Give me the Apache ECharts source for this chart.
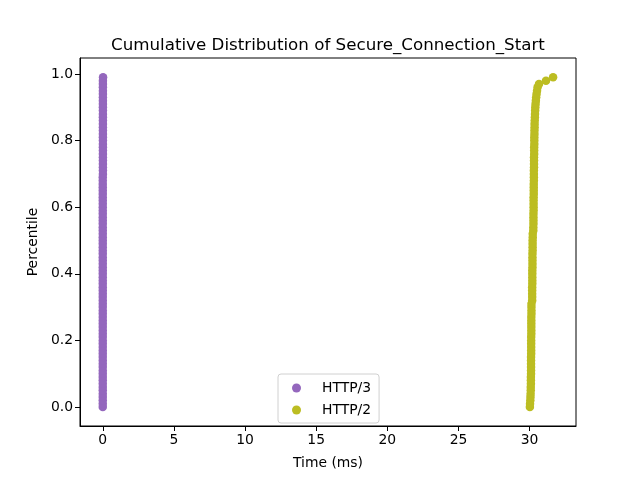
<!DOCTYPE html>
<html><head><meta charset="utf-8">
<script src="https://cdn.jsdelivr.net/npm/echarts@6/dist/echarts.min.js"></script>
<style>html,body{margin:0;padding:0;background:#fff}#c{width:640px;height:480px}</style>
</head><body><div id="c"></div>
<script>
var seriesNames = ['HTTP/3', 'HTTP/2'];
var percentiles = [];
for (var i = 0; i < 100; i++) percentiles.push(i / 100);
var http3Times = [
0.00,0.00,0.00,0.00,0.00,0.00,0.00,0.00,0.00,0.00,
0.00,0.00,0.00,0.00,0.00,0.00,0.00,0.00,0.00,0.00,
0.00,0.00,0.00,0.00,0.00,0.00,0.00,0.00,0.00,0.00,
0.00,0.00,0.00,0.00,0.00,0.00,0.00,0.00,0.00,0.00,
0.00,0.00,0.00,0.00,0.00,0.00,0.00,0.00,0.00,0.00,
0.00,0.00,0.00,0.00,0.00,0.00,0.00,0.00,0.00,0.00,
0.00,0.00,0.00,0.00,0.00,0.00,0.00,0.00,0.00,0.00,
0.01,0.01,0.01,0.01,0.01,0.01,0.01,0.01,0.01,0.01,
0.01,0.01,0.01,0.01,0.01,0.01,0.01,0.01,0.01,0.01,
0.01,0.01,0.01,0.01,0.01,0.01,0.01,0.01,0.01,0.02
];
var http2Times = [
30.02,30.03,30.05,30.06,30.07,30.08,30.08,30.09,30.09,30.09,
30.10,30.10,30.10,30.10,30.10,30.10,30.11,30.11,30.11,30.11,
30.11,30.11,30.12,30.12,30.12,30.12,30.12,30.12,30.13,30.13,
30.13,30.13,30.18,30.18,30.18,30.18,30.18,30.19,30.19,30.19,
30.19,30.19,30.20,30.20,30.20,30.20,30.20,30.21,30.21,30.21,
30.21,30.22,30.22,30.26,30.26,30.27,30.27,30.27,30.27,30.28,
30.28,30.28,30.28,30.28,30.29,30.29,30.29,30.29,30.30,30.30,
30.30,30.30,30.31,30.31,30.31,30.31,30.32,30.32,30.32,30.33,
30.33,30.33,30.34,30.34,30.35,30.35,30.36,30.37,30.38,30.39,
30.40,30.42,30.44,30.46,30.49,30.52,30.56,30.66,31.15,31.65
];
var xTicks = [0, 5, 10, 15, 20, 25, 30];
var yTicks = [0.0, 0.2, 0.4, 0.6, 0.8, 1.0];

function pairs(xs) { return xs.map(function (x, i) { return [x, percentiles[i]]; }); }

var font = 'DejaVu Sans';
var chart = echarts.init(document.getElementById('c'), null, {renderer: 'canvas'});
chart.setOption({
  animation: false,
  backgroundColor: '#fff',
  title: {
    text: 'Cumulative Distribution of Secure_Connection_Start',
    left: 106, top: 32,
    textStyle: {fontFamily: font, fontSize: 16.7, fontWeight: 'normal', color: '#000'}
  },
  grid: {left: 80, right: 64, top: 58, bottom: 54, show: true, borderColor: '#000', borderWidth: 1, backgroundColor: 'transparent'},
  legend: {
    orient: 'vertical', left: 278, top: 374,
    data: seriesNames,
    icon: 'circle', itemWidth: 9, itemHeight: 9, itemGap: 8,
    padding: [7, 8, 6, 14],
    borderColor: '#d0d0d0', borderWidth: 1, borderRadius: 3,
    textStyle: {fontFamily: font, fontSize: 13.9, color: '#000', padding: [0, 0, 0, 16]}
  },
  xAxis: {
    type: 'value', min: -1.6, max: 33.26,
    name: 'Time (ms)', nameLocation: 'middle', nameGap: 30,
    nameTextStyle: {fontFamily: font, fontSize: 13.9, color: '#000'},
    splitLine: {show: false},
    axisLine: {show: true, onZero: false, lineStyle: {color: '#000', width: 1}},
    axisTick: {show: true, inside: false, length: 5, customValues: xTicks, lineStyle: {color: '#000'}},
    axisLabel: {customValues: xTicks, fontFamily: font, fontSize: 13.9, color: '#000', margin: 7}
  },
  yAxis: {
    type: 'value', min: -0.057, max: 1.048,
    name: 'Percentile', nameLocation: 'middle', nameGap: 39, nameRotate: 90,
    nameTextStyle: {fontFamily: font, fontSize: 13.9, color: '#000'},
    splitLine: {show: false},
    axisLine: {show: true, onZero: false, lineStyle: {color: '#000', width: 1}},
    axisTick: {show: true, inside: false, length: 5, customValues: yTicks, lineStyle: {color: '#000'}},
    axisLabel: {customValues: yTicks, fontFamily: font, fontSize: 13.9, color: '#000', margin: 7,
      formatter: function (v) { return v.toFixed(1); }}
  },
  series: [
    {name: seriesNames[0], type: 'scatter', data: pairs(http3Times), symbolSize: 8.5,
     itemStyle: {color: '#9467bd', opacity: 1}},
    {name: seriesNames[1], type: 'scatter', data: pairs(http2Times), symbolSize: 8.5,
     itemStyle: {color: '#bcbd22', opacity: 1}}
  ]
});
</script></body></html>
